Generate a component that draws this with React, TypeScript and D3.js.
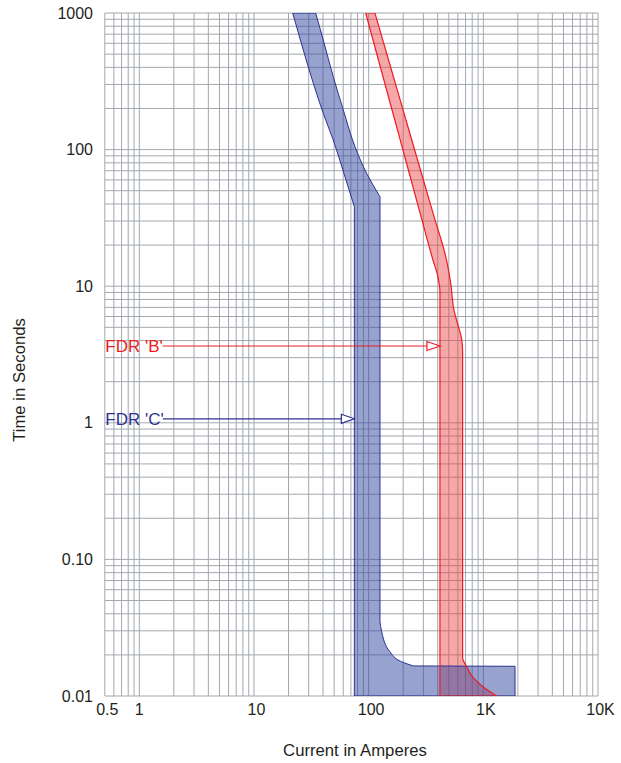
import React from "react";
import * as d3 from "d3";

// Time-current characteristic bands, (current A, time s)
const fdrCLeft: [number, number][] = [
  [21.75, 1000], [26.9, 536], [32.9, 306], [40.2, 184], [49.1, 117.6], [60.3, 68.6], [75, 38.2], [75, 0.01],
];
const fdrCRight: [number, number][] = [
  [34.5, 1000], [40.2, 634], [49.1, 342], [60.1, 195], [76, 105], [96, 67], [125.5, 45.2],
  [125.5, 0.035], [129.8, 0.0296], [153, 0.0211], [194, 0.0178], [245, 0.0166], [1890, 0.0165], [1890, 0.01],
];
const fdrBLeft: [number, number][] = [
  [94.2, 1000], [123.7, 430.5], [162.6, 185.3], [213.6, 79.8], [280.6, 34.4], [363.6, 15.55], [398, 12.08],
  [418.4, 9.07], [418.4, 0.01],
];
const fdrBRight: [number, number][] = [
  [113.4, 1000], [151.8, 430.5], [203.1, 185.3], [271.8, 79.8], [363.6, 34.4], [477.9, 15.55], [521.9, 10.2],
  [554.2, 6.7], [600.5, 5.2], [644.3, 4.18], [659.9, 3.3], [659.9, 0.019], [715, 0.0164], [812, 0.01368],
  [992, 0.0117], [1306, 0.01],
];
// indices where a boundary has a sharp corner
const fdrCLeftCorners = [6];
const fdrCRightCorners = [6, 7, 11, 12];

// Feeder callouts: label, time at which the arrow points, current at the arrow tip
const callouts = [
  { label: "FDR 'B'", time: 3.65, current: 418.4, color: "#ec1c24" },
  { label: "FDR 'C'", time: 1.07, current: 75, color: "#2e3192" },
];

const xTicks = [0.5, 1, 10, 100, 1000, 10000];
const xTickLabels = ["0.5", "1", "10", "100", "1K", "10K"];
const yTicks = [0.01, 0.1, 1, 10, 100, 1000];
const yTickLabels = ["0.01", "0.10", "1", "10", "100", "1000"];

const W = 621;
const H = 763;
const FONT = "'Liberation Sans', Arial, Helvetica, sans-serif";

export default function App() {
  const x = d3.scaleLog().domain([0.5, 10000]).range([104.8, 598]);
  const y = d3.scaleLog().domain([0.01, 1000]).range([696, 13]);

  const xGrid: number[] = [];
  for (let dec = 0.1; dec <= 1000; dec *= 10) {
    for (let m = 1; m <= 9; m++) {
      const v = +(dec * m).toPrecision(6);
      if (v >= 0.5 - 1e-9 && v <= 10000) xGrid.push(v);
    }
  }
  xGrid.push(10000);
  const yGrid: number[] = [];
  for (let dec = 0.01; dec <= 100; dec *= 10) {
    for (let m = 1; m <= 9; m++) yGrid.push(+(dec * m).toPrecision(6));
  }
  yGrid.push(1000);

  const smooth = d3
    .line<[number, number]>()
    .x((d) => x(d[0]))
    .y((d) => y(d[1]))
    .curve(d3.curveMonotoneY);

  // Smooth boundary, broken into straight-joined runs at the corner indices
  const boundary = (pts: [number, number][], corners: number[], first: boolean) => {
    const cuts = [0, ...corners, pts.length - 1];
    let d = "";
    for (let i = 0; i < cuts.length - 1; i++) {
      const run = pts.slice(cuts[i], cuts[i + 1] + 1);
      let seg = smooth(run) || "";
      if (!(first && i === 0)) seg = "L" + seg.slice(1);
      d += seg;
    }
    return d;
  };

  const band = (
    left: [number, number][],
    leftCorners: number[],
    right: [number, number][],
    rightCorners: number[]
  ) => {
    const n = right.length - 1;
    const revRight = right.slice().reverse();
    const revCorners = rightCorners.map((c) => n - c).sort((a, b) => a - b);
    return boundary(left, leftCorners, true) + boundary(revRight, revCorners, false) + "Z";
  };

  const bandB = band(fdrBLeft, [], fdrBRight, []);
  const bandC = band(fdrCLeft, fdrCLeftCorners, fdrCRight, fdrCRightCorners);

  const [x0, x1] = x.range();
  const [yb, yt] = y.range();

  return (
    <svg
      width={W}
      height={H}
      style={{ position: "absolute", left: 0, top: 0, background: "#fff" }}
      fontFamily={FONT}
    >
      <defs>
        <clipPath id="plot-clip">
          <rect x={x0} y={yt} width={x1 - x0} height={yb - yt} />
        </clipPath>
      </defs>

      {/* grid */}
      <g stroke="#a2a8ae" strokeWidth={1}>
        {xGrid.map((v, i) => (
          <line key={"vx" + i} x1={x(v)} x2={x(v)} y1={yt} y2={yb} />
        ))}
        {yGrid.map((v, i) => (
          <line key={"hy" + i} x1={x0} x2={x1} y1={y(v)} y2={y(v)} />
        ))}
      </g>

      {/* bands */}
      <g clipPath="url(#plot-clip)" strokeLinejoin="round">
        <path d={bandB} fill="rgb(235,60,60)" fillOpacity={0.45} stroke="none" />
        <path d={bandC} fill="rgb(50,70,160)" fillOpacity={0.5} stroke="#2e3192" strokeWidth={1} />
        <path d={bandB} fill="none" stroke="#ec1c24" strokeWidth={1.2} />
      </g>

      {/* callouts */}
      {callouts.map((c) => {
        const yy = y(c.time);
        const tip = x(c.current);
        const startX = x0 + 58;
        const headLen = 13;
        return (
          <g key={c.label}>
            <text x={x0 + 0.5} y={yy + 6} fontSize={17} fill={c.color}>
              {c.label}
            </text>
            <line x1={startX} x2={tip - headLen} y1={yy} y2={yy} stroke={c.color} strokeWidth={1.2} />
            <path
              d={`M${tip},${yy}L${tip - headLen},${yy - 4.5}L${tip - headLen},${yy + 4.5}Z`}
              fill="#fff"
              stroke={c.color}
              strokeWidth={1.2}
            />
          </g>
        );
      })}

      {/* axis labels */}
      <g fontSize={16} fill="#231f20">
        {yTicks.map((v, i) => (
          <text key={"yl" + i} x={93} y={y(v) + 5.5} textAnchor="end">
            {yTickLabels[i]}
          </text>
        ))}
        {xTicks.map((v, i) => (
          <text key={"xl" + i} x={x(v) + (i === 1 ? 0 : 2.5)} y={715} textAnchor="middle">
            {xTickLabels[i]}
          </text>
        ))}
        <text x={355} y={756} textAnchor="middle" fontSize={16.7}>
          Current in Amperes
        </text>
        <text transform="translate(25,380) rotate(-90)" textAnchor="middle" fontSize={16.7}>
          Time in Seconds
        </text>
      </g>
    </svg>
  );
}
